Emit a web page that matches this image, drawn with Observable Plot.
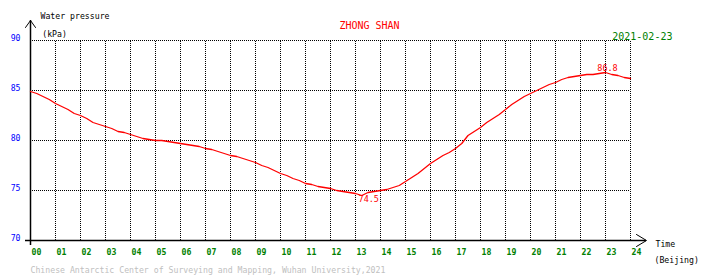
<!DOCTYPE html>
<html><head><meta charset="utf-8">
<script src="https://cdn.jsdelivr.net/npm/d3@7"></script>
<script src="https://cdn.jsdelivr.net/npm/@observablehq/plot@0.6"></script>
<style>body{margin:0;background:#fff}</style>
</head><body><div id="chart"></div>
<script>
// Water pressure (kPa), sampled every 15 minutes from 00:00 to 24:00 (Beijing)
const pressure = [
  84.9, 84.7, 84.4, 84.1, 83.7, 83.4, 83.1, 82.7, 82.5, 82.2, 81.8, 81.6,
  81.4, 81.2, 80.9, 80.8, 80.6, 80.4, 80.2, 80.1, 80.0, 80.0, 79.9, 79.8,
  79.7, 79.6, 79.5, 79.4, 79.2, 79.1, 78.9, 78.7, 78.5, 78.4, 78.2, 78.0,
  77.8, 77.5, 77.3, 77.0, 76.7, 76.5, 76.2, 76.0, 75.7, 75.6, 75.4, 75.3,
  75.2, 75.0, 74.9, 74.8, 74.7, 74.5, 74.8, 74.9, 75.0, 75.1, 75.3, 75.5,
  75.9, 76.3, 76.7, 77.2, 77.7, 78.1, 78.5, 78.8, 79.2, 79.7, 80.5, 80.9,
  81.3, 81.8, 82.2, 82.6, 83.1, 83.6, 84.0, 84.4, 84.7, 85.0, 85.3, 85.6,
  85.8, 86.1, 86.3, 86.4, 86.5, 86.6, 86.6, 86.7, 86.8, 86.6, 86.5, 86.3,
  86.2
];
const stepHours = 0.25;
const hourTicks = d3.range(0, 25);
const pressureTicks = [70, 75, 80, 85, 90];
const gridPressure = [75, 80, 85, 90];
const gridHours = d3.range(1, 25);
const stationName = "ZHONG SHAN";
const dateLabel = "2021-02-23";
const yTitle = "Water pressure";
const yUnit = "(kPa)";
const xTitle = "Time";
const xUnit = "(Beijing)";
const credit = "Chinese Antarctic Center of Surveying and Mapping, Wuhan University,2021";

const data = pressure.map((v, i) => ({t: i * stepHours, v}));
const minV = d3.min(pressure), maxV = d3.max(pressure);
const minPt = data.find(d => d.v === minV);
const maxPt = data.find(d => d.v === maxV);

const font = "DejaVu Sans Mono";

const chart = Plot.plot({
  width: 710,
  height: 278,
  marginLeft: 30,
  marginRight: 80,
  marginTop: 40,
  marginBottom: 38,
  x: {domain: [0, 24]},
  y: {domain: [70, 90]},
  style: {fontFamily: font, fontSize: "8.2px", background: "white", overflow: "visible"},
  marks: [
    // grid
    Plot.ruleY(gridPressure, {x1: 0, x2: 24, stroke: "black", strokeDasharray: "1,1", strokeWidth: 1}),
    Plot.ruleX(gridHours, {y1: 70, y2: 90, stroke: "black", strokeDasharray: "1,1", strokeWidth: 1}),
    // axes lines with arrows
    Plot.ruleX([0], {y1: 69.5, y2: 92, stroke: "black", strokeWidth: 1.5}),
    Plot.ruleY([70], {x1: -0.2, x2: 24.64, stroke: "black", strokeWidth: 1.5}),
    Plot.line([[-0.2, 91.3], [0, 92], [0.2, 91.3]], {x: d => d[0], y: d => d[1], stroke: "black", strokeWidth: 1}),
    Plot.line([[24.24, 70.6], [24.64, 70], [24.24, 69.4]], {x: d => d[0], y: d => d[1], stroke: "black", strokeWidth: 1}),
    // tick labels
    Plot.axisX({ticks: hourTicks, tickSize: 0, tickPadding: 9, textAnchor: "start", dx: 1,
      tickFormat: d => String(d).padStart(2, "0"), fill: "green", fontWeight: "bold", label: null}),
    Plot.axisY({ticks: pressureTicks, tickSize: 0, tickPadding: 10, dy: -2, fill: "blue", label: null}),
    // data line
    Plot.line(data, {x: "t", y: "v", stroke: "red", strokeWidth: 1.3}),
    // min / max annotations
    Plot.text([minPt], {x: "t", y: "v", text: d => d.v.toFixed(1), fill: "red", dx: 7, dy: 4, fontSize: 8.5}),
    Plot.text([maxPt], {x: "t", y: "v", text: d => d.v.toFixed(1), fill: "red", dx: 2, dy: -4, fontSize: 8.5}),
    // titles
    Plot.text([stationName], {x: 13.56, y: 91.5, text: d => d, fill: "red", fontSize: 10}),
    Plot.text([dateLabel], {x: 23.27, y: 90.35, text: d => d, fill: "green", fontSize: 10, textAnchor: "start"}),
    Plot.text([yTitle], {x: 0.4, y: 92.4, text: d => d, fill: "black", textAnchor: "start"}),
    Plot.text([yUnit], {x: 0.47, y: 90.58, text: d => d, fill: "black", textAnchor: "start"}),
    Plot.text([xTitle], {x: 25.0, y: 69.6, text: d => d, fill: "black", textAnchor: "start"}),
    Plot.text([xUnit], {x: 24.96, y: 68.0, text: d => d, fill: "black", textAnchor: "start"}),
    Plot.text([credit], {x: 0, y: 67.0, text: d => d, fill: "#c0c0c0", textAnchor: "start"})
  ]
});
document.getElementById("chart").appendChild(chart);
</script>
</body></html>
